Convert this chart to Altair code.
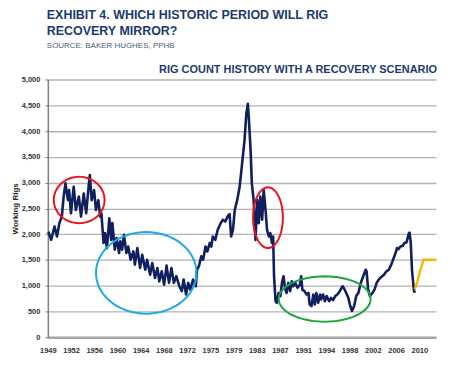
import altair as alt
import pandas as pd

# ---- data ----
years = [1949.1, 1949.55, 1950.1, 1950.5, 1950.9, 1951.3, 1951.6, 1951.9, 1952.3, 1952.5,
         1952.8, 1953.25, 1953.6, 1954.1, 1954.45, 1954.9, 1955.3, 1955.7, 1955.9, 1956.2,
         1956.6, 1956.9, 1957.3, 1957.6, 1957.8, 1958.15, 1958.4, 1958.7, 1959.1, 1959.4,
         1959.6, 1960.0, 1960.3, 1960.7, 1960.9, 1961.2, 1961.5, 1961.9, 1962.2, 1962.6,
         1963.05, 1963.3, 1963.7, 1964.15, 1964.5, 1965.0, 1965.3, 1965.8, 1966.15, 1966.6,
         1967.0, 1967.3, 1967.7, 1968.1, 1968.5, 1968.9, 1969.3, 1969.7, 1970.1, 1970.6,
         1971.0, 1971.3, 1971.7, 1972.05, 1972.4, 1972.85, 1973.3, 1973.5, 1973.8, 1974.2,
         1974.5, 1974.9, 1975.2, 1975.6, 1975.85, 1976.1, 1976.5, 1976.9, 1977.4, 1977.75,
         1978.15, 1978.5, 1978.85, 1979.1, 1979.4, 1979.7, 1980.1, 1980.5, 1980.85, 1981.3,
         1981.6, 1981.85, 1982.0, 1982.3, 1982.5, 1982.8, 1983.1, 1983.4, 1983.65, 1983.9,
         1984.2, 1984.45, 1984.75, 1985.0, 1985.3, 1985.55, 1985.8, 1986.0, 1986.15, 1986.4,
         1986.6, 1986.9, 1987.2, 1987.45, 1987.7, 1987.95, 1988.2, 1988.5, 1988.8, 1989.05,
         1989.3, 1989.65, 1990.0, 1990.4, 1990.6, 1990.8, 1991.15, 1991.5, 1991.8, 1992.0,
         1992.3, 1992.6, 1992.85, 1993.1, 1993.4, 1993.7, 1993.9, 1994.2, 1994.5, 1994.8,
         1995.2, 1995.5, 1995.85, 1996.2, 1996.55, 1996.95, 1997.4, 1997.6, 1998.0, 1998.35,
         1998.6, 1998.95, 1999.3, 1999.65, 2000.0, 2000.4, 2000.8, 2001.2, 2001.35, 2001.6,
         2001.9, 2002.3, 2002.65, 2003.0, 2003.35, 2003.75, 2004.2, 2004.6, 2005.0, 2005.4,
         2005.7, 2006.1, 2006.35, 2006.6, 2006.9, 2007.3, 2007.55, 2007.9, 2008.3, 2008.4,
         2008.6, 2008.8, 2009.1, 2009.25]
rigs = [2050, 1890, 2150, 1955, 2215, 2340, 2730, 2985, 2660, 2855,
        2405, 2920, 2470, 2730, 2340, 2790, 2405, 2920, 3145, 2660,
        2855, 2470, 2660, 2340, 2405, 1830, 2020, 1730, 2310, 1890,
        2215, 1700, 1925, 1635, 1860, 1700, 1990, 1635, 1760, 1505,
        1665, 1410, 1730, 1345, 1600, 1310, 1505, 1215, 1440, 1150,
        1345, 1085, 1280, 1020, 1390, 1055, 1345, 1055, 1185, 990,
        895, 1120, 830, 1055, 925, 1120, 990, 1310, 1375, 1570,
        1505, 1760, 1665, 1830, 1760, 1955, 1890, 2085, 2215, 2280,
        2245, 2340, 2390, 1955, 2085, 2470, 2660, 2920, 3305, 3820,
        4335, 4530, 4270, 3630, 2985, 2660, 1890, 2660, 2215, 2730,
        2280, 2855, 2470, 2085, 1955, 2020, 1830, 1955, 1185, 700,
        670, 860, 800, 1055, 1185, 960, 860, 1055, 895, 1085,
        990, 1055, 960, 1020, 1185, 925, 895, 830, 860, 635,
        605, 830, 635, 860, 670, 830, 735, 830, 700, 800,
        700, 765, 720, 800, 830, 895, 990, 960, 860, 765,
        635, 510, 605, 800, 860, 1055, 1185, 1310, 1280, 925,
        800, 860, 925, 1055, 1120, 1170, 1215, 1280, 1310, 1410,
        1505, 1635, 1730, 1710, 1760, 1775, 1830, 1840, 2020, 2030,
        1830, 1310, 925, 860]

rec_years = [2009.25, 2009.7, 2010.2, 2010.7, 2012.8]
rec_rigs = [925, 1085, 1310, 1505, 1505]

x_labels = ["1949", "1952", "1956", "1960", "1964", "1968", "1972", "1975", "1979",
            "1983", "1987", "1991", "1994", "1998", "2002", "2006", "2010"]
y_ticks = [0, 500, 1000, 1500, 2000, 2500, 3000, 3500, 4000, 4500, 5000]

# annotation ellipses (centre year, centre rigs, half-width in years, half-height in rigs)
ell_cx = [1954.15, 1965.16, 1985.15, 1994.46]
ell_cy = [2663, 1249, 2320, 743]
ell_rx = [4.17, 8.25, 2.45, 7.55]
ell_ry = [450, 791, 589, 440]
ell_col = ["#e8161c", "#1ea8e6", "#e8161c", "#1fa33c"]

title_lines = ["EXHIBIT 4. WHICH HISTORIC PERIOD WILL RIG", "RECOVERY MIRROR?"]
source_text = "SOURCE: BAKER HUGHES, PPHB"
chart_title = "RIG COUNT HISTORY WITH A RECOVERY SCENARIO"

# ---- chart ----
FONT = "Liberation Sans"
X0, X1 = 1949.0, 2012.75
step = (2010 - 1949) / 16
tick_pos = [X0 + i * step for i in range(len(x_labels))]
label_expr = "[" + ",".join(f"'{s}'" for s in x_labels) + f"][round((datum.value-{X0})/{step})]"

xs = alt.Scale(domain=[X0, X1], nice=False, zero=False)
ys = alt.Scale(domain=[0, 5000], nice=False)

x_axis = alt.Axis(values=tick_pos, labelExpr=label_expr, title=None, grid=False,
                  ticks=False, domainColor="#a6a6a6", domainWidth=2.5,
                  labelOverlap=False, labelFlush=False,
                  labelFont=FONT, labelFontSize=7.5, labelFontWeight="bold",
                  labelColor="#333333", labelPadding=9)
y_axis = alt.Axis(values=y_ticks, labelExpr="format(datum.value, ',')", title="Working Rigs",
                  titleFont=FONT, titleFontSize=8, titleFontWeight="bold",
                  titleColor="#222222", titlePadding=2,
                  gridColor="#b3b3b3", gridWidth=1.3, domainColor="#7f7f7f",
                  domainWidth=1.5, tickColor="#7f7f7f", tickSize=3,
                  labelOverlap=False, labelFlush=False,
                  labelFont=FONT, labelFontSize=7.5, labelFontWeight="bold",
                  labelColor="#333333", labelPadding=5)


def xenc():
    return alt.X("year:Q", scale=xs, axis=x_axis)


def yenc():
    return alt.Y("rigs:Q", scale=ys, axis=y_axis)


main_df = pd.DataFrame({"year": years, "rigs": rigs})
rec_df = pd.DataFrame({"year": rec_years, "rigs": rec_rigs})

base = alt.Chart(main_df).mark_line(color="#101f5e", strokeWidth=2.6, strokeJoin="round").encode(
    x=xenc(), y=yenc(), order="year:Q")

rec = alt.Chart(rec_df).mark_line(color="#f7b500", strokeWidth=2.4).encode(
    x=xenc(), y=yenc(), order="year:Q")

layers = [base, rec]
for cx, cy, rx, ry, col in zip(ell_cx, ell_cy, ell_rx, ell_ry, ell_col):
    e = alt.Chart(alt.sequence(0, 365, 5, as_="deg")).transform_calculate(
        year=f"{cx} + {rx}*cos(datum.deg*PI/180)",
        rigs=f"{cy} + {ry}*sin(datum.deg*PI/180)",
    ).mark_line(color=col, strokeWidth=2).encode(x=xenc(), y=yenc(), order="deg:Q")
    layers.append(e)

ctitle = alt.Chart(pd.DataFrame({"t": [chart_title]})).mark_text(
    font=FONT, fontSize=11, fontWeight="bold", color="#1c3a6e", align="right",
    baseline="alphabetic").encode(text="t:N", x=alt.value(391), y=alt.value(-7))
layers.append(ctitle)

chart = alt.layer(*layers).properties(
    width=390, height=259,
    autosize=alt.AutoSizeParams(type="none"),
    padding={"left": 40, "top": 71, "right": 6, "bottom": 24},
    background="white",
    title=alt.TitleParams(text=title_lines, subtitle=source_text, anchor="start",
                          frame="group", font=FONT, fontSize=12.5, fontWeight="bold",
                          color="#1c3a6e", lineHeight=16, subtitleFont=FONT,
                          subtitleFontSize=8, subtitleColor="#4b5b78",
                          subtitlePadding=4, offset=14, dx=-1),
).configure_view(stroke=None)

chart.save("out.html", embed_options={"renderer": "svg", "actions": False})
